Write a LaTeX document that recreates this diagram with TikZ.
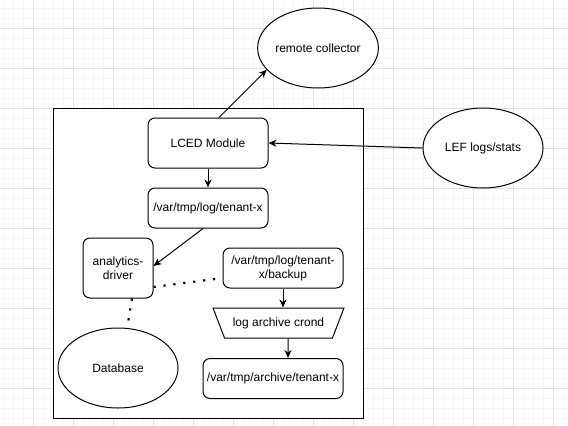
\documentclass[tikz,border=0pt]{standalone}
\usepackage{fontspec}
\setmainfont{Liberation Sans}
\usetikzlibrary{shapes.geometric,arrows.meta}
\definecolor{gridmajor}{HTML}{E2E2E2}
\definecolor{gridminor}{HTML}{F6F6F6}
\begin{document}
\begin{tikzpicture}[x=1pt,y=-1pt,
  every node/.style={font=\fontsize{12}{14}\selectfont, align=center, inner sep=0pt, text=black},
  shapeline/.style={draw=black, line width=1pt, fill=white},
  rbox/.style={shapeline, rounded corners=7pt},
  oval/.style={shapeline, ellipse, minimum width=120pt, minimum height=80pt},
  arr/.style={draw=black, line width=1pt, -{Stealth[length=8pt,width=7pt]}},
  dotline/.style={draw=black, line width=2.2pt, dash pattern=on 2.2pt off 7.8pt}
]
\useasboundingbox (0,0) rectangle (568,426);
\fill[white] (0,0) rectangle (568,426);
% grid
\foreach \x in {3,13,...,563} \draw[gridminor, line width=1pt] (\x,0) -- (\x,426);
\foreach \y in {8,18,...,418} \draw[gridminor, line width=1pt] (0,\y) -- (568,\y);
\foreach \x in {33,73,...,553} \draw[gridmajor, line width=1pt] (\x,0) -- (\x,426);
\foreach \y in {28,68,...,388} \draw[gridmajor, line width=1pt] (0,\y) -- (568,\y);

% container
\node[shapeline, minimum width=310pt, minimum height=310pt] (host) at (208,263) {};

% nodes
\node[oval] (remote) at (318,48) {remote collector};
\node[oval] (lef) at (483,148) {LEF logs/stats};
\node[rbox, minimum width=120pt, minimum height=50pt] (lced) at (208,143) {LCED Module};
\node[rbox, minimum width=120pt, minimum height=40pt] (tenant) at (208,208) {/var/tmp/log/tenant-x};
\node[rbox, minimum width=70pt, minimum height=60pt] (analytics) at (118,268) {analytics-\\driver};
\node[rbox, minimum width=120pt, minimum height=40pt] (backup) at (283,268) {/var/tmp/log/tenant-\\x/backup};
\node[shapeline, trapezium, shape border rotate=180, trapezium angle=49, trapezium stretches=true,
      minimum width=131pt, minimum height=30pt] (crond) at (278.5,323) {log archive crond};
\node[rbox, minimum width=140pt, minimum height=40pt] (archive) at (273,378.5) {/var/tmp/archive/tenant-x};
\node[oval] (db) at (118,368) {Database};

% connectors
\draw[arr] ([xshift=11pt]lced.north) -- (remote.203);
\draw[arr] (lef.west) -- (lced.east);
\draw[arr] (lced.south) -- (tenant.north);
\draw[arr] ([xshift=-5pt]tenant.south) -- ([yshift=2pt]analytics.east);
\draw[arr] (backup.south) -- (backup.south |- crond.north);
\draw[arr] ([xshift=9.5pt]crond.south) -- ([xshift=15pt]archive.north);
\draw[dotline] ([yshift=-19pt]analytics.east) -- ([yshift=-10pt]backup.west);
\draw[dotline] ([xshift=14pt]analytics.south) -- (db.77);
\end{tikzpicture}
\end{document}
